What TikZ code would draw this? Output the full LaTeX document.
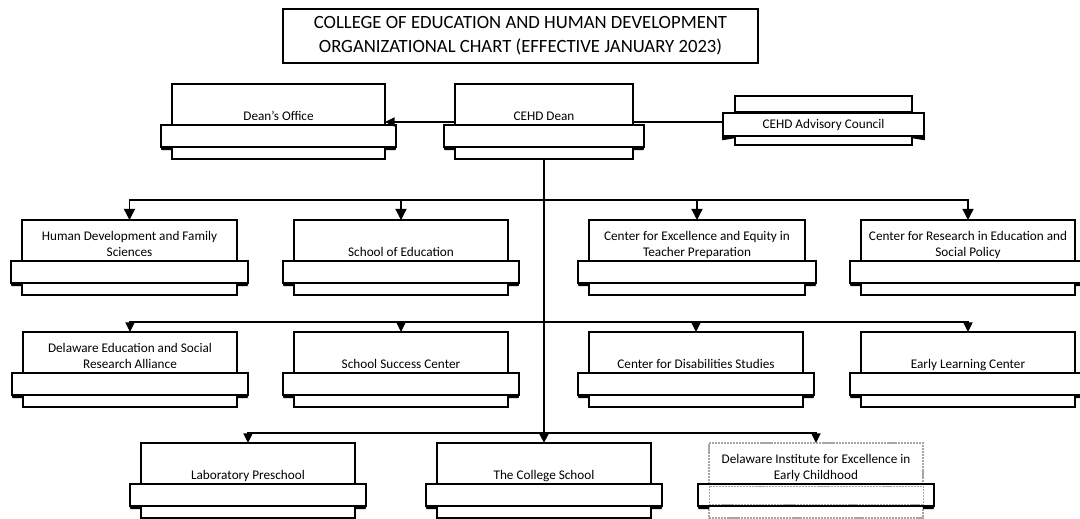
\documentclass[tikz,border=0pt]{standalone}
\usepackage{fontspec}
\setmainfont{Carlito}
\usepackage{tikz}
\usetikzlibrary{arrows.meta}

% one unit: top box, band with folded ends, bottom strip, text above the band
\newcommand{\orgunit}[6][]{%
  \node[upperbox,#1,minimum width={(#4-#3)*0.025cm},anchor=north west] (#2) at (#3,#5) {};
  \draw[upperline,#1,fill=white] ([yshift=-5.5mm]#2.south west) rectangle ([yshift=-8.5mm]#2.south east);
  \draw[bandline] ([xshift=-2.75mm]#2.south west) rectangle ([xshift=2.75mm,yshift=-5.5mm]#2.south east);
  \fill[tabfill] ([xshift=-2.75mm,yshift=-5.5mm]#2.south west) -- ++(0.1mm,-0.8mm) -- ([yshift=-6.3mm]#2.south west) -- ([yshift=-5.5mm]#2.south west) -- cycle;
  \fill[tabfill] ([xshift=2.75mm,yshift=-5.5mm]#2.south east) -- ++(-0.1mm,-0.8mm) -- ([yshift=-6.3mm]#2.south east) -- ([yshift=-5.5mm]#2.south east) -- cycle;
  \node[unittext] (#2-text) at ([yshift=1mm]#2.south) {#6};
}

\begin{document}
\begin{tikzpicture}[x=0.025cm,y=-0.025cm]
\tikzstyle{upperbox}=[draw,line width=1.1pt,fill=white,inner sep=0pt,outer sep=0pt,minimum height=1.025cm]
\tikzstyle{upperline}=[line width=1.1pt]
\tikzstyle{bandline}=[draw,line width=1.5pt,fill=white]
\tikzstyle{tabfill}=[black]
\tikzstyle{unittext}=[anchor=south,inner sep=0pt,text depth=0pt,align=center,font=\fontsize{9.4}{11.4}\selectfont]
\tikzstyle{titlebox}=[draw,line width=1.2pt,minimum width=11.875cm,minimum height=1.35cm,inner sep=0pt,align=center,font=\fontsize{13.3}{17}\selectfont]
\tikzstyle{bar}=[line width=0.9pt]
\tikzstyle{trunk}=[line width=2.1pt]
\tikzstyle{arr}=[-{Triangle[length=2.4mm,width=2.3mm]}]
\tikzstyle{bigarr}=[-{Triangle[length=2.8mm,width=2.8mm]}]
\tikzstyle{faded}=[draw=gray!70,dash pattern=on 1.5pt off 0.6pt]

\useasboundingbox (0,0) rectangle (1080,519);

\node[titlebox] (title) at (520.5,36) {COLLEGE OF EDUCATION AND HUMAN DEVELOPMENT\\ORGANIZATIONAL CHART (EFFECTIVE JANUARY 2023)};

% dean row
\orgunit{deansoffice}{172}{385}{84}{Dean's Office}
\orgunit{dean}{455}{633}{84}{CEHD Dean}

\node[upperbox,minimum width=4.425cm,minimum height=0.4cm,anchor=north] (advisorytop) at (823.5,96) {};
\node[upperbox,minimum width=4.425cm,minimum height=0.25cm,anchor=north] (advisorybottom) at (823.5,135) {};
\node[bandline,minimum width=5.025cm,minimum height=0.575cm,inner sep=0pt,anchor=north,font=\fontsize{9.4}{11.4}\selectfont] (advisory) at (823.5,112) {CEHD Advisory Council};
\fill[tabfill] (advisory.south west) -- ++(0.1mm,-0.8mm) -- ([yshift=-0.8mm]advisorybottom.north west) -- (advisorybottom.north west) -- cycle;
\fill[tabfill] (advisory.south east) -- ++(-0.1mm,-0.8mm) -- ([yshift=-0.8mm]advisorybottom.north east) -- (advisorybottom.north east) -- cycle;

% first row
\orgunit{hdfs}{22}{237}{220}{Human Development and Family\\Sciences}
\orgunit{soe}{294}{508}{220}{School of Education}
\orgunit{ceetp}{589}{805}{220}{Center for Excellence and Equity in\\Teacher Preparation}
\orgunit{cresp}{861}{1075}{220}{Center for Research in Education and\\Social Policy}

% second row
\orgunit{desra}{23}{237}{332}{Delaware Education and Social\\Research Alliance}
\orgunit{ssc}{294}{508}{332}{School Success Center}
\orgunit{cds}{589}{803}{332}{Center for Disabilities Studies}
\orgunit{elc}{861}{1075}{332}{Early Learning Center}

% third row
\orgunit{labps}{141}{355}{443}{Laboratory Preschool}
\orgunit{tcs}{437}{651}{443}{The College School}
\orgunit[faded]{dieec}{709}{923}{443}{Delaware Institute for Excellence in\\Early Childhood}
\draw[faded,line width=0.5pt] ([yshift=-0.5mm]dieec.south west) rectangle ([yshift=-5mm]dieec.south east);

% connectors
\draw[bar,arr] ([yshift=0.75mm]dean.south west) -- ([yshift=0.75mm]dean.south west -| deansoffice.east);
\draw[bar] ([yshift=0.75mm]dean.south east) -- ([yshift=0.75mm]dean.south east -| advisory.west);

\coordinate (trunktop) at ([yshift=-8.5mm]dean.south);
\coordinate (row1) at (544,200);
\coordinate (row2) at (544,322);
\coordinate (row3) at (544,433);

\draw[bar,bigarr] (row1) -| (hdfs.north);
\draw[bar,bigarr] (row1) -| (soe.north);
\draw[bar,bigarr] (row1) -| (ceetp.north);
\draw[bar,bigarr] (row1) -| (cresp.north);

\draw[bar,arr] (row2) -| (desra.north);
\draw[bar,arr] (row2) -| (ssc.north);
\draw[bar,arr] (row2) -| (cds.north);
\draw[bar,arr] (row2) -| (elc.north);

\draw[bar,arr] (row3) -| (labps.north);
\draw[bar,arr] (row3) -| (dieec.north);

\draw[trunk,arr] (trunktop) -- (tcs.north);
\end{tikzpicture}
\end{document}
